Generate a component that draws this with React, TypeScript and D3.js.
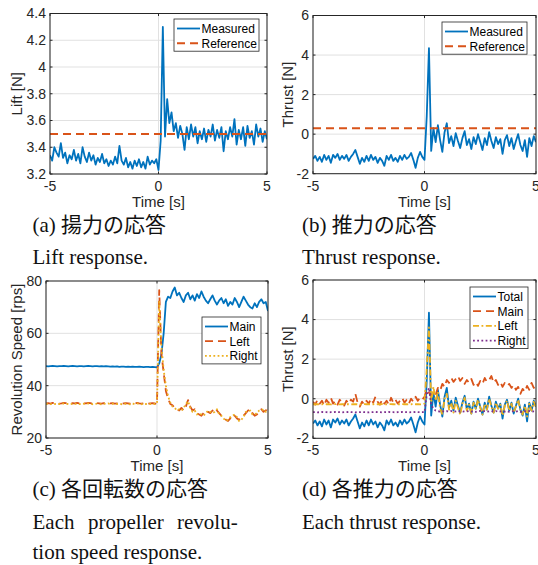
import React from 'react';
import * as d3 from 'd3';

// sampling grid of the recordings (0.1 s step, -5 s .. 5 s)
const time = d3.range(101).map(i => +(-5 + i * 0.1).toFixed(1));
const refTime = [-5, 5];

const xTicks = [-5, 0, 5];

// (a) lift
const liftMeasured = [
  3.34, 3.30, 3.40, 3.36, 3.33, 3.43, 3.32, 3.36, 3.28, 3.34,
  3.31, 3.38, 3.30, 3.35, 3.28, 3.40, 3.33, 3.29, 3.36, 3.30,
  3.34, 3.27, 3.32, 3.29, 3.35, 3.28, 3.31, 3.26, 3.30, 3.27,
  3.33, 3.28, 3.41, 3.30, 3.27, 3.32, 3.25, 3.29, 3.24, 3.30,
  3.26, 3.31, 3.25, 3.29, 3.24, 3.33, 3.27, 3.30, 3.28, 3.31,
  3.23, 3.45, 4.30, 3.48, 3.76, 3.58, 3.66, 3.52, 3.58, 3.47,
  3.56, 3.50, 3.38, 3.55, 3.46, 3.57, 3.48, 3.55, 3.43, 3.52,
  3.46, 3.54, 3.44, 3.53, 3.48, 3.57, 3.45, 3.53, 3.47, 3.55,
  3.37, 3.52, 3.46, 3.55, 3.48, 3.61, 3.42, 3.53, 3.46, 3.55,
  3.41, 3.56, 3.47, 3.52, 3.42, 3.57, 3.48, 3.54, 3.44, 3.52,
  3.46,
];
const liftReference = [3.5, 3.5];
const liftTicks = [3.2, 3.4, 3.6, 3.8, 4, 4.2, 4.4];

// (b) thrust, also the "Total" of (d)
const thrustMeasured = [
  -1.25, -1.10, -1.35, -1.15, -1.40, -1.05, -1.30, -1.10, -1.45, -1.05,
  -1.20, -1.00, -1.30, -1.10, -1.25, -1.05, -1.35, -1.15, -1.00, -0.80,
  -1.15, -1.50, -1.20, -1.40, -1.10, -1.35, -1.05, -1.30, -1.15, -1.45,
  -1.20, -1.35, -1.60, -1.10, -1.30, -1.05, -1.35, -1.20, -1.40, -1.10,
  -1.30, -1.05, -1.25, -1.15, -0.95, -1.30, -1.70, -1.20, -0.90, -1.15,
  -1.30, 0.90, 4.35, -0.85, 0.30, -0.40, 0.45, -0.30, -0.90, 0.10,
  0.55, -0.45, -0.10, -0.60, 0.05, -0.35, -0.70, -0.20, 0.15, -0.55,
  -0.25, -0.75, -0.15, -0.50, 0.00, -0.40, -0.80, -0.20, -0.55, 0.10,
  -0.35, -0.70, -0.15, -0.50, -0.25, -1.00, -0.30, -0.05, -0.60, -0.20,
  -0.75, -0.35, 0.00, -0.55, -0.85, -0.30, -1.15, -0.20, -0.60, -0.10,
  -0.40,
];
const thrustReference = [0.3, 0.3];
const thrustTicks = [-2, 0, 2, 4, 6];

// (c) revolution speed
const revMain = [
  47.5, 47.4, 47.5, 47.6, 47.5, 47.4, 47.5, 47.5, 47.6, 47.5,
  47.4, 47.5, 47.6, 47.5, 47.4, 47.5, 47.5, 47.4, 47.5, 47.6,
  47.5, 47.4, 47.5, 47.5, 47.4, 47.5, 47.4, 47.5, 47.4, 47.3,
  47.4, 47.3, 47.4, 47.2, 47.3, 47.3, 47.2, 47.3, 47.2, 47.3,
  47.2, 47.2, 47.3, 47.2, 47.1, 47.2, 47.2, 47.1, 47.2, 47.1,
  47.0, 48.5, 52.0, 60.0, 72.0, 74.0, 73.5, 76.0, 77.5, 74.5,
  75.5, 73.5, 72.0, 74.5, 75.5, 73.0, 74.5, 72.5, 75.0, 73.5,
  76.0, 74.0, 72.5, 71.5, 73.0, 74.5, 72.5, 71.0, 72.5, 73.5,
  71.5, 73.0, 70.5, 72.0, 71.0, 73.5, 72.0, 70.0, 72.0, 74.0,
  72.5, 71.0, 70.0, 69.5, 71.5, 70.0, 72.0, 73.0, 71.5, 72.0,
  68.5,
];
const revLeft = [
  33.2, 33.3, 33.1, 33.4, 33.2, 33.3, 33.1, 33.2, 33.4, 33.3,
  33.2, 33.1, 33.3, 33.2, 33.4, 33.2, 33.1, 33.3, 33.2, 33.4,
  33.3, 33.1, 33.2, 33.3, 33.2, 33.1, 33.3, 33.2, 33.4, 33.2,
  33.3, 33.1, 33.2, 33.3, 33.1, 33.2, 33.3, 33.2, 33.1, 33.3,
  33.2, 33.4, 33.2, 33.1, 33.3, 33.2, 33.1, 33.2, 33.3, 33.2,
  33.0, 76.5, 52.0, 45.0, 38.0, 35.0, 33.0, 32.5, 31.5, 31.0,
  30.5, 31.5, 30.5, 32.0, 34.5, 32.0, 30.5, 31.0, 29.5, 29.0,
  28.5, 29.5, 29.0, 30.0, 29.5, 30.5, 29.5, 30.5, 29.5, 28.5,
  28.0, 27.0, 26.5, 27.5, 29.0, 28.5, 27.5, 27.0, 27.5, 28.5,
  29.5, 30.5, 31.0, 29.5, 28.5, 29.0, 30.0, 31.0, 30.0, 30.5,
  31.5,
];
const revRight = [
  33.0, 33.1, 32.9, 33.2, 33.0, 33.1, 33.0, 32.9, 33.2, 33.1,
  33.0, 32.9, 33.1, 33.0, 33.2, 33.0, 32.9, 33.1, 33.0, 33.2,
  33.1, 32.9, 33.0, 33.1, 33.0, 32.9, 33.1, 33.0, 33.2, 33.0,
  33.1, 32.9, 33.0, 33.1, 32.9, 33.0, 33.1, 33.0, 32.9, 33.1,
  33.0, 33.2, 33.0, 32.9, 33.1, 33.0, 32.9, 33.0, 33.1, 33.0,
  33.2, 72.0, 55.0, 46.0, 40.0, 36.0, 33.5, 32.0, 31.5, 30.5,
  31.0, 30.5, 31.5, 33.0, 34.0, 31.5, 30.0, 30.5, 29.0, 29.5,
  29.0, 28.5, 29.5, 30.5, 30.0, 29.5, 30.0, 31.0, 29.0, 28.5,
  27.5, 26.5, 27.0, 28.0, 28.5, 29.0, 28.0, 26.5, 27.0, 28.0,
  30.0, 30.0, 30.5, 29.0, 29.0, 29.5, 30.5, 30.5, 31.0, 30.0,
  31.0,
];
const revTicks = [20, 40, 60, 80];

// (d) each thrust
const thrustMain = [
  -0.15, -0.30, -0.05, -0.25, -0.10, -0.35, -0.05, -0.20, 0.05, -0.25,
  -0.10, -0.30, -0.05, -0.20, -0.35, -0.10, -0.25, -0.05, -0.15, 0.25,
  -0.20, -0.40, -0.15, -0.30, -0.10, -0.25, 0.00, -0.20, 0.10, -0.15,
  -0.30, -0.05, -0.25, -0.10, -0.30, 0.05, -0.20, -0.05, -0.25, -0.10,
  0.05, -0.20, -0.05, -0.25, 0.00, -0.15, 0.10, -0.10, 0.05, -0.05,
  0.10, 0.45, 0.30, 0.15, 0.35, 0.20, 0.55, 0.40, 0.75, 0.60,
  0.95, 0.80, 1.05, 0.85, 1.00, 1.15, 0.90, 1.05, 0.75, 0.95,
  0.80, 1.00, 0.70, 0.85, 0.65, 0.90, 0.75, 1.05, 0.85, 0.95,
  1.15, 0.80, 0.95, 0.70, 0.85, 0.60, 0.80, 0.65, 0.75, 0.55,
  0.70, 0.45, 0.60, 0.25, 0.50, 0.35, 0.65, 0.45, 0.80, 0.55,
  0.70,
];
const thrustLeft = [
  -0.28, -0.27, -0.28, -0.29, -0.28, -0.27, -0.28, -0.28, -0.29, -0.28,
  -0.27, -0.28, -0.29, -0.28, -0.27, -0.28, -0.28, -0.29, -0.28, -0.27,
  -0.28, -0.29, -0.28, -0.27, -0.28, -0.28, -0.29, -0.28, -0.27, -0.28,
  -0.28, -0.27, -0.29, -0.28, -0.28, -0.27, -0.28, -0.29, -0.28, -0.28,
  -0.27, -0.28, -0.28, -0.29, -0.28, -0.27, -0.28, -0.28, -0.29, -0.28,
  -0.25, 1.50, 3.60, -0.20, 0.60, -0.10, 0.35, -0.50, -0.80, 0.00,
  0.25, -0.55, -0.20, -0.70, -0.10, -0.45, -0.80, -0.25, 0.05, -0.60,
  -0.30, -0.75, -0.20, -0.50, -0.05, -0.45, -0.80, -0.25, -0.55, 0.00,
  -0.40, -0.70, -0.20, -0.50, -0.30, -0.85, -0.35, -0.10, -0.60, -0.25,
  -0.70, -0.40, -0.05, -0.55, -0.80, -0.35, -0.90, -0.25, -0.60, -0.15,
  -0.45,
];
const thrustRight = [
  -0.68, -0.68, -0.69, -0.68, -0.67, -0.68, -0.68, -0.69, -0.68, -0.68,
  -0.67, -0.68, -0.68, -0.69, -0.68, -0.68, -0.67, -0.68, -0.68, -0.69,
  -0.68, -0.68, -0.67, -0.68, -0.68, -0.69, -0.68, -0.68, -0.67, -0.68,
  -0.68, -0.69, -0.68, -0.68, -0.67, -0.68, -0.68, -0.69, -0.68, -0.68,
  -0.67, -0.68, -0.68, -0.69, -0.68, -0.68, -0.67, -0.68, -0.68, -0.68,
  -0.68, 0.20, 0.55, -0.30, -0.50, -0.60, -0.63, -0.65, -0.62, -0.66,
  -0.63, -0.65, -0.62, -0.66, -0.64, -0.62, -0.65, -0.63, -0.66, -0.64,
  -0.62, -0.65, -0.63, -0.66, -0.64, -0.62, -0.65, -0.63, -0.66, -0.64,
  -0.63, -0.65, -0.62, -0.66, -0.64, -0.63, -0.65, -0.62, -0.66, -0.64,
  -0.63, -0.65, -0.62, -0.66, -0.64, -0.63, -0.65, -0.62, -0.66, -0.64,
  -0.64,
];

const BLUE = '#0072BD';
const ORANGE = '#D95319';
const YELLOW = '#EDB120';
const PURPLE = '#7E2F8E';
const AXIS = '#262626';
const GRID = '#e1e1e1';
const SANS = '"Liberation Sans", Arial, Helvetica, sans-serif';
const SERIF = '"Liberation Serif", "Times New Roman", serif';
const CJK = '"Noto Sans CJK JP", sans-serif';

const DASH = '8 5';
const DOT = '1.8 2.4';
const DASHDOT = '6 2.5 1.8 2.5';

type Series = { label: string; t: number[]; v: number[]; color: string; dash?: string; width?: number };
type PanelSpec = {
  id: string;
  left: number; right: number; top: number; bottom: number;
  yDomain: [number, number];
  yTicks: number[];
  yLabel: string;
  yLabelX: number;
  series: Series[];
  legend: { x: number; y: number; w: number };
};

const panels: PanelSpec[] = [
  {
    id: 'a', left: 50, right: 267, top: 13.5, bottom: 174,
    yDomain: [3.2, 4.4], yTicks: liftTicks, yLabel: 'Lift [N]', yLabelX: 22,
    series: [
      { label: 'Measured', t: time, v: liftMeasured, color: BLUE },
      { label: 'Reference', t: refTime, v: liftReference, color: ORANGE, dash: DASH, width: 2 },
    ],
    legend: { x: 174, y: 19, w: 85 },
  },
  {
    id: 'b', left: 313, right: 536, top: 15.5, bottom: 173.7,
    yDomain: [-2, 6], yTicks: thrustTicks, yLabel: 'Thrust [N]', yLabelX: 292.5,
    series: [
      { label: 'Measured', t: time, v: thrustMeasured, color: BLUE },
      { label: 'Reference', t: refTime, v: thrustReference, color: ORANGE, dash: DASH, width: 2 },
    ],
    legend: { x: 442, y: 22, w: 85 },
  },
  {
    id: 'c', left: 46, right: 268, top: 281, bottom: 438,
    yDomain: [20, 80], yTicks: revTicks, yLabel: 'Revolution Speed [rps]', yLabelX: 21.5,
    series: [
      { label: 'Main', t: time, v: revMain, color: BLUE },
      { label: 'Left', t: time, v: revLeft, color: ORANGE, dash: DASH },
      { label: 'Right', t: time, v: revRight, color: YELLOW, dash: DOT },
    ],
    legend: { x: 202, y: 317, w: 59 },
  },
  {
    id: 'd', left: 313, right: 536, top: 280, bottom: 438.3,
    yDomain: [-2, 6], yTicks: thrustTicks, yLabel: 'Thrust [N]', yLabelX: 292.5,
    series: [
      { label: 'Total', t: time, v: thrustMeasured, color: BLUE },
      { label: 'Main', t: time, v: thrustMain, color: ORANGE, dash: DASH },
      { label: 'Left', t: time, v: thrustLeft, color: YELLOW, dash: DASHDOT },
      { label: 'Right', t: time, v: thrustRight, color: PURPLE, dash: DOT },
    ],
    legend: { x: 470, y: 287, w: 58 },
  },
];

function Panel({ p }: { p: PanelSpec }) {
  const x = d3.scaleLinear().domain([-5, 5]).range([p.left, p.right]);
  const y = d3.scaleLinear().domain(p.yDomain).range([p.bottom, p.top]);
  const clipId = 'clip-' + p.id;
  const tickLen = 2.5;
  const rowH = 14.7;
  const legH = 9.5 + (p.series.length - 1) * rowH + 8;

  return (
    <g>
      <defs>
        <clipPath id={clipId}>
          <rect x={p.left} y={p.top} width={p.right - p.left} height={p.bottom - p.top} />
        </clipPath>
      </defs>
      <rect x={p.left} y={p.top} width={p.right - p.left} height={p.bottom - p.top} fill="#fff" />
      {/* grid */}
      {p.yTicks.map(v => (
        <line key={'gy' + v} x1={p.left} x2={p.right} y1={y(v)} y2={y(v)} stroke={GRID} strokeWidth={1} />
      ))}
      {xTicks.map(v => (
        <line key={'gx' + v} x1={x(v)} x2={x(v)} y1={p.top} y2={p.bottom} stroke={GRID} strokeWidth={1} />
      ))}
      {/* data */}
      <g clipPath={`url(#${clipId})`}>
        {p.series.map(s => {
          const line = d3.line<number>().x((_, i) => x(s.t[i])).y(d => y(d));
          return (
            <path key={s.label} d={line(s.v) || ''} fill="none" stroke={s.color}
              strokeWidth={s.width ?? 1.8} strokeDasharray={s.dash} strokeLinejoin="round" />
          );
        })}
      </g>
      {/* box and ticks */}
      <rect x={p.left} y={p.top} width={p.right - p.left} height={p.bottom - p.top}
        fill="none" stroke={AXIS} strokeWidth={1} />
      {p.yTicks.map(v => (
        <g key={'ty' + v}>
          <line x1={p.left} x2={p.left + tickLen} y1={y(v)} y2={y(v)} stroke={AXIS} />
          <line x1={p.right} x2={p.right - tickLen} y1={y(v)} y2={y(v)} stroke={AXIS} />
          <text x={p.left - 4} y={y(v)} dy="0.35em" textAnchor="end" fontFamily={SANS} fontSize={14} fill={AXIS}>
            {String(v)}
          </text>
        </g>
      ))}
      {xTicks.map(v => (
        <g key={'tx' + v}>
          <line x1={x(v)} x2={x(v)} y1={p.bottom} y2={p.bottom - tickLen} stroke={AXIS} />
          <line x1={x(v)} x2={x(v)} y1={p.top} y2={p.top + tickLen} stroke={AXIS} />
          <text x={x(v)} y={p.bottom + 17} textAnchor="middle" fontFamily={SANS} fontSize={14} fill={AXIS}>
            {String(v)}
          </text>
        </g>
      ))}
      <text x={(p.left + p.right) / 2} y={p.bottom + 33} textAnchor="middle" fontFamily={SANS} fontSize={15} fill={AXIS}>
        Time [s]
      </text>
      <text transform={`translate(${p.yLabelX},${(p.top + p.bottom) / 2}) rotate(-90)`} textAnchor="middle"
        fontFamily={SANS} fontSize={15} fill={AXIS}>
        {p.yLabel}
      </text>
      {/* legend */}
      <g>
        <rect x={p.legend.x} y={p.legend.y} width={p.legend.w} height={legH} fill="#fff" stroke={AXIS} strokeWidth={0.8} />
        {p.series.map((s, i) => {
          const cy = p.legend.y + 9.5 + i * rowH;
          return (
            <g key={'lg' + s.label}>
              <line x1={p.legend.x + 3} x2={p.legend.x + 26} y1={cy} y2={cy} stroke={s.color}
                strokeWidth={s.width ?? 1.8} strokeDasharray={s.dash} />
              <text x={p.legend.x + 27.5} y={cy} dy="0.36em" fontFamily={SANS} fontSize={12} fill="#000">
                {s.label}
              </text>
            </g>
          );
        })}
      </g>
    </g>
  );
}

const captionA = ['(a) ', '揚力の応答'];
const captionB = ['(b) ', '推力の応答'];
const captionC = ['(c) ', '各回転数の応答'];
const captionD = ['(d) ', '各推力の応答'];

function Caption({ x, y, parts }: { x: number; y: number; parts: string[] }) {
  return (
    <text x={x} y={y} fontFamily={SERIF} fontSize={21} fill="#111">
      {parts[0]}
      <tspan fontFamily={CJK} fontSize={21}>{parts[1]}</tspan>
    </text>
  );
}

export default function App() {
  const serifText = { fontFamily: SERIF, fontSize: 21, fill: '#111' };
  return (
    <svg width={538} height={565} style={{ position: 'absolute', left: 0, top: 0, background: '#fff' }}>
      <rect width={538} height={565} fill="#fff" />
      {panels.map(p => <Panel key={p.id} p={p} />)}

      <Caption x={32.5} y={232} parts={captionA} />
      <text x={32.5} y={264} {...serifText}>Lift response.</text>

      <Caption x={302} y={232} parts={captionB} />
      <text x={302} y={264} {...serifText}>Thrust response.</text>

      <Caption x={32.5} y={496} parts={captionC} />
      <text y={529} {...serifText}>
        <tspan x={32.5}>Each</tspan>
        <tspan x={88}>propeller</tspan>
        <tspan x={177}>revolu-</tspan>
      </text>
      <text x={32.5} y={559} {...serifText}>tion speed response.</text>

      <Caption x={302} y={496} parts={captionD} />
      <text x={302} y={529} {...serifText}>Each thrust response.</text>
    </svg>
  );
}
